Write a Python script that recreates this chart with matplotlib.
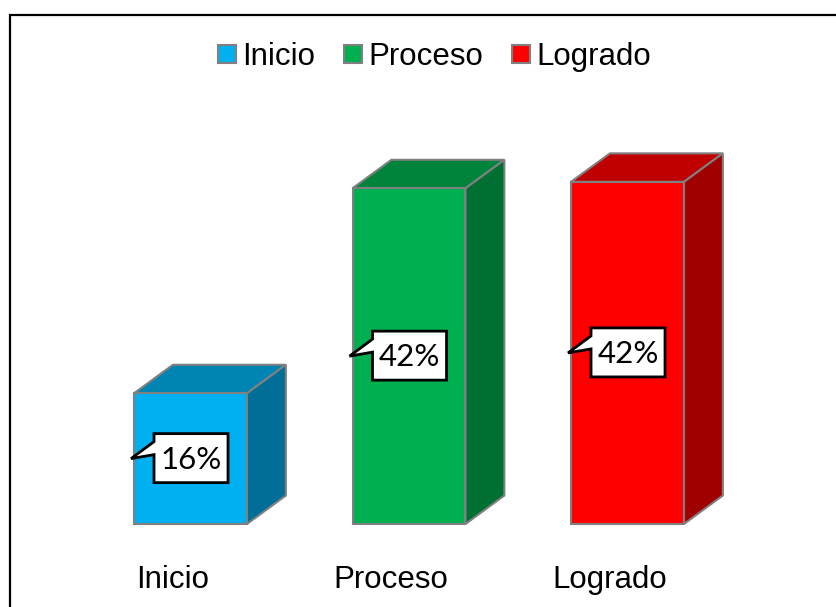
import matplotlib
matplotlib.use('Agg')
import matplotlib.pyplot as plt
import matplotlib.transforms as mtransforms
from matplotlib.patches import Polygon, Rectangle

# datos del gráfico
categories = ['Inicio', 'Proceso', 'Logrado']
values = [16.2, 41.6, 42.4]
labels = ['16%', '42%', '42%']
front_colors = ['#00B0F0', '#00B050', '#FF0000']
top_colors = ['#0084B4', '#00843C', '#C00000']
side_colors = ['#006E96', '#007032', '#A00000']

edge = '#808080'
bar_w = 0.517      # ancho de la cara frontal (unidades de categoría)
depth_x = 0.178    # profundidad 3D en x
depth_y = 3.53     # profundidad 3D en y (%)

fig = plt.figure(figsize=(8.37, 6.07), dpi=100)
ax = fig.add_axes([0, 0, 1, 1])
ax.set_xlim(-0.8719, 2.9588)
ax.set_ylim(-10.285, 64.93)
ax.axis('off')

for i, (cat, v) in enumerate(zip(categories, values)):
    x0 = i - bar_w / 2
    x1 = i + bar_w / 2
    # cara frontal, superior y lateral
    ax.add_patch(Rectangle((x0, 0), bar_w, v, facecolor=front_colors[i],
                           edgecolor=edge, lw=1.5, zorder=3))
    ax.add_patch(Polygon([(x0, v), (x1, v), (x1 + depth_x, v + depth_y), (x0 + depth_x, v + depth_y)],
                         closed=True, facecolor=top_colors[i], edgecolor=edge, lw=1.5, zorder=2))
    ax.add_patch(Polygon([(x1, 0), (x1 + depth_x, depth_y), (x1 + depth_x, v + depth_y), (x1, v)],
                         closed=True, facecolor=side_colors[i], edgecolor=edge, lw=1.5, zorder=2))

    # llamada (callout) con la etiqueta
    tip_x, tip_y = x0, v / 2
    tr = mtransforms.Affine2D().translate(-3, 0) + mtransforms.ScaledTranslation(tip_x, tip_y, ax.transData)
    shape = [(23, 25), (23, 17), (0, 0), (23, 4), (23, -24), (97, -24), (97, 25)]
    ax.add_patch(Polygon(shape, closed=True, facecolor='white', edgecolor='black',
                         lw=2, transform=tr, zorder=5))
    ax.annotate(labels[i], xy=(tip_x, tip_y), xytext=(57, -1), textcoords='offset pixels',
                ha='center', va='center', fontsize=22.5, family='Lato', zorder=6)

    # etiqueta de categoría
    ax.annotate(cat, xy=(i, 0), xytext=(-18, -56), textcoords='offset pixels',
                ha='center', va='center', fontsize=22.5, family='Liberation Sans')

handles = [Rectangle((0, 0), 1, 1, facecolor=c, edgecolor=edge, lw=1.5) for c in front_colors]
fig.legend(handles, categories, loc='center', bbox_to_anchor=(434.5 / 837, 1 - 57 / 607),
           ncol=3, frameon=False, prop={'family': 'Liberation Sans', 'size': 22.5},
           handlelength=0.55, handleheight=0.55, handletextpad=0.2, columnspacing=0.95)

# borde del gráfico
fig.add_artist(Rectangle((10.5 / 837, -0.1), 1.0, 1 - 14.5 / 607 + 0.1, transform=fig.transFigure,
                         fill=False, edgecolor='black', lw=1.6))

fig.savefig('out.png', dpi=100)
